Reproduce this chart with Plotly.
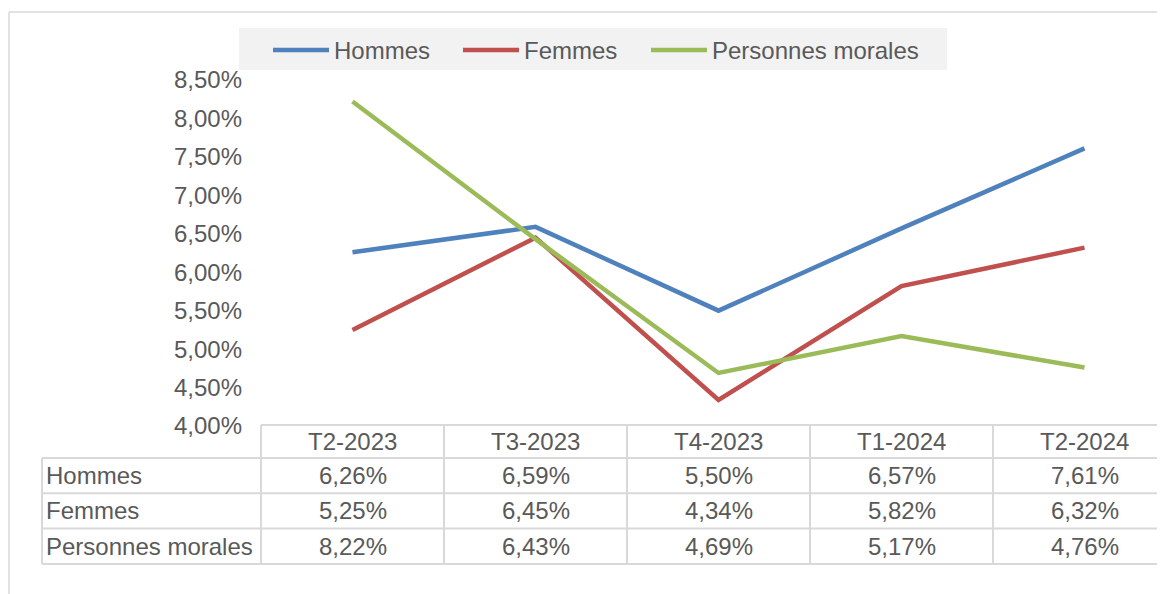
import plotly.graph_objects as go

# data
categories = ["T2-2023", "T3-2023", "T4-2023", "T1-2024", "T2-2024"]
hommes = [6.26, 6.59, 5.50, 6.57, 7.61]
femmes = [5.25, 6.45, 4.34, 5.82, 6.32]
personnes_morales = [8.22, 6.43, 4.69, 5.17, 4.76]

series_names = ["Hommes", "Femmes", "Personnes morales"]
series_values = [hommes, femmes, personnes_morales]
series_colors = ["#4f81bd", "#c0504d", "#9bbb59"]
legend_widths = [119, 117, 215]

y_ticks = [4.0, 4.5, 5.0, 5.5, 6.0, 6.5, 7.0, 7.5, 8.0, 8.5]

# page geometry: the html body has an 8px margin, so the figure is shifted by OFF
OFF = 8
W, H = 1165 - OFF, 594 - OFF
L, T = 261 - OFF, 80 - OFF
B = H - (426 - OFF)
PW = W - L
PH = H - T - B
COL_W = 183
FONT = "Liberation Sans, Arial, sans-serif"
FS = 24
GREY_TXT = "#595959"
BORDER = "#d9d9d9"


# helpers taking screen pixel positions
def px(x):
    return (x - OFF - L) / PW


def py(y):
    return (H - B - (y - OFF)) / PH


def fmt(v):
    return f"{v:.2f}%".replace(".", ",")


fig = go.Figure()

for name, vals, color, lw in zip(series_names, series_values, series_colors, legend_widths):
    fig.add_trace(go.Scatter(
        x=list(range(len(categories))),
        y=vals,
        mode="lines",
        name=name,
        line=dict(color=color, width=4.5),
        legendwidth=lw,
        cliponaxis=False,
    ))

shapes = []
annotations = []

# outer chart border (cut off at right and bottom)
shapes.append(dict(type="line", xref="paper", yref="paper", x0=px(9), x1=px(1175), y0=py(12), y1=py(12),
                   line=dict(color=BORDER, width=1.5)))
shapes.append(dict(type="line", xref="paper", yref="paper", x0=px(9), x1=px(9), y0=py(12), y1=py(600),
                   line=dict(color=BORDER, width=1.5)))

# legend background
shapes.append(dict(type="rect", xref="paper", yref="paper", x0=px(239), x1=px(947), y0=py(28), y1=py(70),
                   fillcolor="#f2f2f2", line=dict(width=0), layer="below"))

# data table below the plot
header_top, header_bot = 425, 458
row_h = 35.3
table_bot = header_bot + row_h * len(series_names)
label_left = 42
n = len(categories)

shapes.append(dict(type="line", xref="paper", yref="paper", x0=px(261), x1=px(1180),
                   y0=py(header_top), y1=py(header_top), line=dict(color=BORDER, width=2)))
for r in range(len(series_names) + 1):
    yy = header_bot + r * row_h
    shapes.append(dict(type="line", xref="paper", yref="paper", x0=px(label_left), x1=px(1180),
                       y0=py(yy), y1=py(yy), line=dict(color=BORDER, width=2)))
shapes.append(dict(type="line", xref="paper", yref="paper", x0=px(label_left), x1=px(label_left),
                   y0=py(header_bot), y1=py(table_bot), line=dict(color=BORDER, width=2)))
for c in range(n + 1):
    xx = 261 + c * COL_W
    shapes.append(dict(type="line", xref="paper", yref="paper", x0=px(xx), x1=px(xx),
                       y0=py(header_top), y1=py(table_bot), line=dict(color=BORDER, width=2)))

for i, cat in enumerate(categories):
    annotations.append(dict(xref="x", yref="paper", x=i, y=py((header_top + header_bot) / 2),
                            text=cat, showarrow=False, xanchor="center", yanchor="middle",
                            font=dict(family=FONT, size=FS, color=GREY_TXT)))
for r, (name, vals) in enumerate(zip(series_names, series_values)):
    yc = header_bot + (r + 0.5) * row_h
    annotations.append(dict(xref="paper", yref="paper", x=px(label_left + 2), y=py(yc),
                            text=name, showarrow=False, xanchor="left", yanchor="middle",
                            font=dict(family=FONT, size=FS, color=GREY_TXT)))
    for i, v in enumerate(vals):
        annotations.append(dict(xref="x", yref="paper", x=i, y=py(yc),
                                text=fmt(v), showarrow=False, xanchor="center", yanchor="middle",
                                font=dict(family=FONT, size=FS, color=GREY_TXT)))

fig.update_layout(
    width=W, height=H,
    margin=dict(l=L, r=0, t=T, b=B, autoexpand=False),
    paper_bgcolor="white",
    plot_bgcolor="white",
    separators=", ",
    showlegend=True,
    legend=dict(
        orientation="h",
        x=px(268), xanchor="left",
        y=py(28), yanchor="top",
        bgcolor="rgba(0,0,0,0)",
        font=dict(family=FONT, size=FS, color=GREY_TXT),
        itemwidth=56,
    ),
    xaxis=dict(
        range=[-0.5, -0.5 + PW / COL_W],
        showticklabels=False, showgrid=False, zeroline=False, showline=False, ticks="",
    ),
    yaxis=dict(
        range=[y_ticks[0], y_ticks[-1]],
        tickvals=y_ticks,
        ticktext=[fmt(v) for v in y_ticks],
        showgrid=False, zeroline=False, showline=False, ticks="",
        ticklabelstandoff=18,
        tickfont=dict(family=FONT, size=FS, color=GREY_TXT),
    ),
    shapes=shapes,
    annotations=annotations,
)

fig.write_html("out.html")
